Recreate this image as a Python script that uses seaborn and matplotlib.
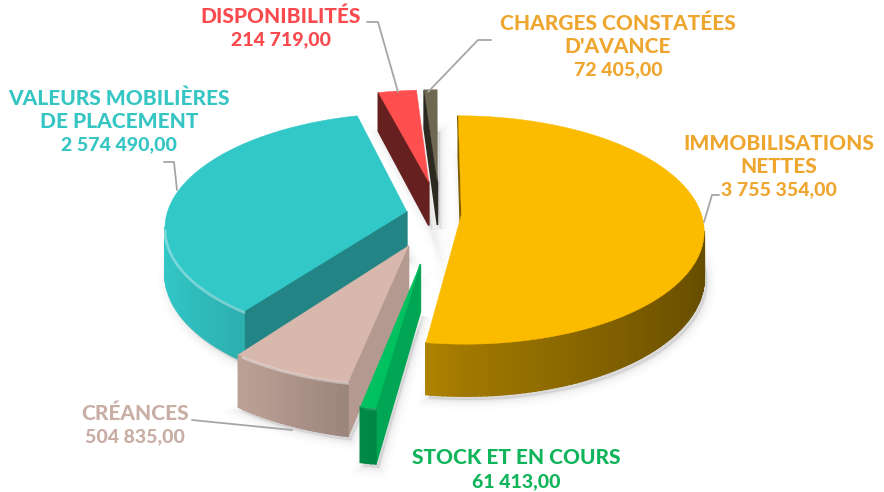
import numpy as np
import matplotlib
matplotlib.use("Agg")
import matplotlib.pyplot as plt
import seaborn as sns
from matplotlib.colors import to_rgb

# data, clockwise from 12 o'clock
categories = ["IMMOBILISATIONS\nNETTES", "STOCK ET EN COURS", "CRÉANCES",
              "VALEURS MOBILIÈRES\nDE PLACEMENT", "DISPONIBILITÉS",
              "CHARGES CONSTATÉES\nD'AVANCE"]
values = [3755354.00, 61413.00, 504835.00, 2574490.00, 214719.00, 72405.00]
value_labels = ["3 755 354,00", "61 413,00", "504 835,00", "2 574 490,00",
                "214 719,00", "72 405,00"]

slice_colors = ["#FBBC00", "#00C160", "#D8B8AC", "#33C8C8", "#FF4F4F", "#6E6752"]
text_colors = ["#EFA62F", "#10B45A", "#C8AEA4", "#35C6C4", "#FA4A4E", "#EFA62F"]
explode = [0.11, 0.43, 0.30, 0.12, 0.30, 0.30]
nudge = [0.0, 0.015, 0.015, 0.0, 0.02, 0.02]
radial_shade = [0.5, 0.86, 0.83, 0.66, 0.40, 0.40]
bevel = [0.0, 0.1, 0.4, 0.35, 0.0, 0.0]
draw_order = [4, 5, 3, 0, 2, 1]

# where each label block sits (centre x, first line y)
label_pos = [(779, 143), (516, 458), (135, 413), (119, 98), (281, 16), (618, 23)]
leaders = [
    [(719, 195), (712, 195), (704, 222)],
    [],
    [(192, 420), (292, 430)],
    [(164, 162), (174, 162), (177, 190)],
    [(367, 22), (378, 22), (398, 92)],
    [(491, 40), (478, 40), (428, 92)],
]

# view of the disc
cx, cy = 435, 214
rx, ry = 240, 112
persp = 0.132
depth = 45

sns.set_theme(style="white")
plt.rcParams["font.family"] = ["Lato", "DejaVu Sans"]
palette = sns.color_palette(slice_colors)


def project(x, y, z=0.0):
    s = 1.0 / (1.0 + persp * y)
    return cx + rx * x * s, cy - ry * y * s + z * s


def shade_for(nx):
    # light comes from the left, rim gets darker towards the right
    return np.interp(nx, [-1.0, -0.5, 0.0, 1.0], [1.0, 0.84, 0.64, 0.40])


fig = plt.figure(figsize=(8.84, 4.92), dpi=100)
ax = fig.add_axes([0, 0, 1, 1])
ax.set_xlim(0, 884)
ax.set_ylim(492, 0)
ax.axis("off")

total = sum(values)
edges = np.concatenate([[0], np.cumsum(values)]) / total * 2 * np.pi

outlines = []
for i in range(len(values)):
    a0, a1 = edges[i], edges[i + 1]
    mid = (a0 + a1) / 2
    ox, oy = explode[i] * np.sin(mid) + nudge[i], explode[i] * np.cos(mid)
    t = np.linspace(a0, a1, max(int((a1 - a0) * 50), 4))
    wx = np.concatenate([[ox], ox + np.sin(t)])
    wy = np.concatenate([[oy], oy + np.cos(t)])
    outlines.append((wx, wy, t))

# soft shadow under the slices
for i in draw_order:
    wx, wy, t = outlines[i]
    bx, by = project(wx, wy, depth)
    for lw, al in [(14, 0.012), (9, 0.018), (5, 0.025), (2, 0.035)]:
        ax.fill(bx + 3, by + 4, color="black", alpha=al, lw=lw)

for i in draw_order:
    wx, wy, t = outlines[i]
    col = np.array(to_rgb(palette[i]))
    sx, sy = project(wx, wy)
    bx, by = project(wx, wy, depth)
    n = len(sx)
    for j in range(n):
        k = (j + 1) % n
        if sx[k] >= sx[j]:
            continue
        if j == 0 or k == 0:
            shade = radial_shade[i]
        else:
            shade = shade_for(np.sin((t[j - 1] + t[k - 1]) / 2))
        c = col * shade
        ax.fill([sx[j], sx[k], bx[k], bx[j]], [sy[j], sy[k], by[k], by[j]],
                color=c, lw=1.2)
    ax.fill(sx, sy, color=col, lw=0.3)
    # bevel on the front rim
    front = np.where(np.diff(sx[1:]) < 0)[0]
    if len(front) > 1 and bevel[i] > 0:
        ax.plot(sx[1:][front], sy[1:][front] + 1, color="white", alpha=bevel[i],
                lw=2, solid_capstyle="round")

for pts in leaders:
    if pts:
        ax.plot([p[0] for p in pts], [p[1] for p in pts], color="#A6A6A6", lw=1.3)

line_step = 23.3
for i, name in enumerate(categories):
    x, y = label_pos[i]
    lines = name.split("\n")
    for j, line in enumerate(lines):
        ax.text(x, y + j * line_step, line, color=text_colors[i], fontsize=15,
                fontweight=900, ha="center", va="center")
    ax.text(x, y + len(lines) * line_step, value_labels[i], color=text_colors[i],
            fontsize=14, fontweight=900, ha="center", va="center")

fig.savefig("out.png", dpi=100)
